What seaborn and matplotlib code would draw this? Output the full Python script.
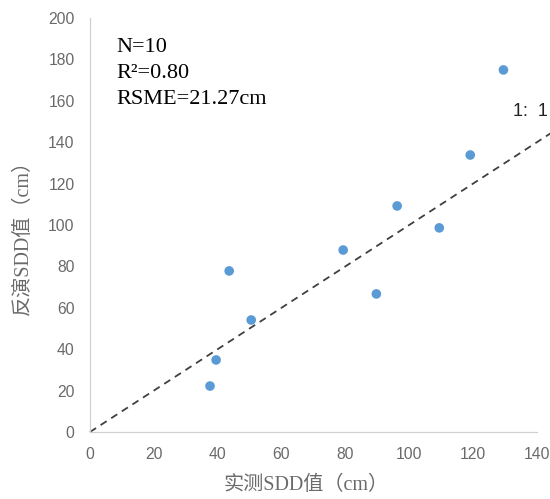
import matplotlib
matplotlib.use("Agg")
import matplotlib.pyplot as plt
import seaborn as sns
import pandas as pd
import numpy as np

measured = [37.6, 39.5, 43.6, 50.5, 79.3, 89.7, 96.2, 109.4, 119.1, 129.5]
retrieved = [22.2, 34.8, 77.8, 54.1, 87.9, 66.7, 109.2, 98.6, 133.8, 174.9]
line_x = [0, 150]
line_y = [0, 150]
x_ticks = [0, 20, 40, 60, 80, 100, 120, 140]
y_ticks = [0, 20, 40, 60, 80, 100, 120, 140, 160, 180, 200]
stats_lines = ["N=10", "R²=0.80", "RSME=21.27cm"]

sns.set_theme(style="white")
plt.rcParams['font.family'] = ['Noto Sans CJK SC', 'DejaVu Sans']

df = pd.DataFrame({"measured": measured, "retrieved": retrieved})

fig = plt.figure(figsize=(5.5, 4.99), dpi=100)
ax = fig.add_axes([0.1636, 0.1343, 0.8127, 0.8297])

ax.plot(line_x, line_y, linestyle=(0, (4, 3)), color="#404040", linewidth=1.3, clip_on=False, zorder=2)
sns.scatterplot(data=df, x="measured", y="retrieved", ax=ax, color="#5B9BD5",
                s=48, edgecolor="none", zorder=3, clip_on=False)

ax.set_xlim(0, 140)
ax.set_ylim(0, 200)
ax.set_xticks(x_ticks)
ax.set_yticks(y_ticks)
tick_font = dict(family=['Liberation Sans', 'DejaVu Sans'], size=11.3, color="#6a6a6a")
ax.set_xticklabels([str(t) for t in x_ticks], **tick_font)
ax.set_yticklabels([str(t) for t in y_ticks], **tick_font)
ax.tick_params(axis='both', direction='out', length=5, width=0.8, color="#d0d0d0", pad=6)

for s in ["top", "right"]:
    ax.spines[s].set_visible(False)
for s in ["left", "bottom"]:
    ax.spines[s].set_color("#d0d0d0")
    ax.spines[s].set_linewidth(0.9)

label_font = ['Liberation Serif', 'Noto Sans CJK SC', 'DejaVu Sans']
ax.set_xlabel("实测SDD值（cm）", fontsize=14.5, color="#6a6a6a", family=label_font)
ax.set_ylabel("反演SDD值（cm）", fontsize=14.5, color="#6a6a6a", family=label_font)
ax.xaxis.label.set_va('center')
ax.yaxis.label.set_va('center')
ax.xaxis.set_label_coords(0.483, -0.128)
ax.yaxis.set_label_coords(-0.150, 0.483)

serif = ['Liberation Serif', 'DejaVu Serif']
ys = [0.928, 0.866, 0.802]
for txt, yy in zip(stats_lines, ys):
    ax.text(0.06, yy, txt, transform=ax.transAxes, fontsize=16, family=serif,
            color="black", va="center", ha="left")

ax.text(132.5, 155, "1:  1", fontsize=13, family=['Liberation Sans', 'DejaVu Sans'],
        color="#222222", va="center", ha="left", clip_on=False)

fig.savefig("out.png", dpi=100)
